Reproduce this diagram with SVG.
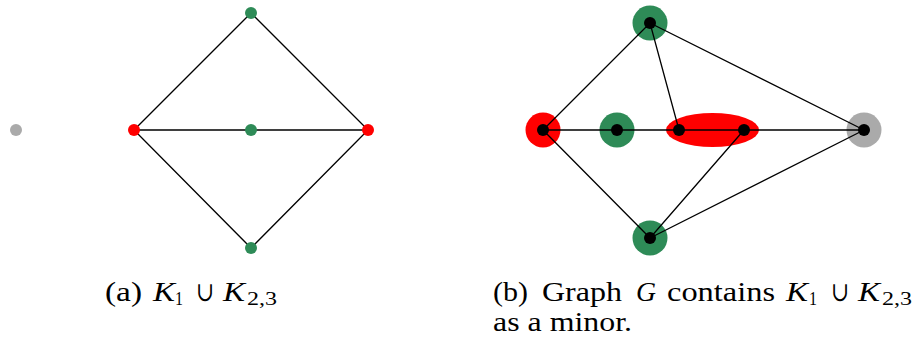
<svg xmlns="http://www.w3.org/2000/svg" width="917" height="343" viewBox="0 0 917 343">
<style>
.e{stroke:#000;stroke-width:1.3;fill:none}
.t{font-family:"Liberation Serif","DejaVu Serif",serif;font-size:27px;fill:#000}
.i{font-style:italic}
.s{font-size:19px}
.v{fill:#000}
</style>
<rect width="917" height="343" fill="#fff"/>
<g id="edges-a">
<path class="e" d="M134,130 L251,13 L368,130 L251,248 Z M134,130 H368"/>
</g>
<g id="a-k1"><circle cx="16" cy="130" r="6" fill="#aaaaaa"/></g>
<g id="a-r1"><circle cx="134" cy="130" r="6" fill="#ff0000"/></g>
<g id="a-r2"><circle cx="368" cy="130" r="6" fill="#ff0000"/></g>
<g id="a-g1"><circle cx="251" cy="13" r="6" fill="#2e8b57"/></g>
<g id="a-g2"><circle cx="251" cy="130" r="6" fill="#2e8b57"/></g>
<g id="a-g3"><circle cx="251" cy="248" r="6" fill="#2e8b57"/></g>
<g id="halos">
<circle cx="650" cy="23" r="17.5" fill="#2e8b57"/>
<circle cx="617" cy="130" r="17.5" fill="#2e8b57"/>
<circle cx="650" cy="238" r="17.5" fill="#2e8b57"/>
<circle cx="543" cy="130" r="17.5" fill="#ff0000"/>
<circle cx="864" cy="130" r="17.5" fill="#aaaaaa"/>
<ellipse cx="712.5" cy="130" rx="46.5" ry="17" fill="#ff0000"/>
</g>
<g id="edges-b">
<path class="e" d="M543,130 H864 M543,130 L650,23 L679,130 M650,23 L864,130 M543,130 L650,238 L744,130 M650,238 L864,130"/>
</g>
<g id="b-top"><circle class="v" cx="650" cy="23" r="6"/></g>
<g id="b-left"><circle class="v" cx="543" cy="130" r="6"/></g>
<g id="b-mid"><circle class="v" cx="617" cy="130" r="6"/></g>
<g id="b-e1"><circle class="v" cx="679" cy="130" r="6"/></g>
<g id="b-e2"><circle class="v" cx="744" cy="130" r="6"/></g>
<g id="b-right"><circle class="v" cx="864" cy="130" r="6"/></g>
<g id="b-bottom"><circle class="v" cx="650" cy="238" r="6"/></g>
<g id="caption-a" class="t">
<text x="105" y="301" textLength="37" lengthAdjust="spacingAndGlyphs">(a)</text>
<text class="i" x="153" y="301" textLength="22" lengthAdjust="spacingAndGlyphs">K</text>
<text class="s" x="175" y="305" textLength="8" lengthAdjust="spacingAndGlyphs">1</text>
<text x="196" y="301" textLength="18" lengthAdjust="spacingAndGlyphs">∪</text>
<text class="i" x="223" y="301" textLength="22" lengthAdjust="spacingAndGlyphs">K</text>
<text class="s" x="247" y="305" textLength="30" lengthAdjust="spacingAndGlyphs">2,3</text>
</g>
<g id="caption-b" class="t">
<text x="493" y="301" textLength="35" lengthAdjust="spacingAndGlyphs">(b)</text>
<text x="542" y="301" textLength="80" lengthAdjust="spacingAndGlyphs">Graph</text>
<text class="i" x="636" y="301" textLength="20" lengthAdjust="spacingAndGlyphs">G</text>
<text x="667" y="301" textLength="108" lengthAdjust="spacingAndGlyphs">contains</text>
<text class="i" x="786" y="301" textLength="22" lengthAdjust="spacingAndGlyphs">K</text>
<text class="s" x="809" y="305" textLength="8" lengthAdjust="spacingAndGlyphs">1</text>
<text x="831" y="301" textLength="18" lengthAdjust="spacingAndGlyphs">∪</text>
<text class="i" x="858" y="301" textLength="22" lengthAdjust="spacingAndGlyphs">K</text>
<text class="s" x="882" y="305" textLength="30" lengthAdjust="spacingAndGlyphs">2,3</text>
<text x="493" y="331" textLength="139" lengthAdjust="spacingAndGlyphs">as a minor.</text>
</g>
</svg>
